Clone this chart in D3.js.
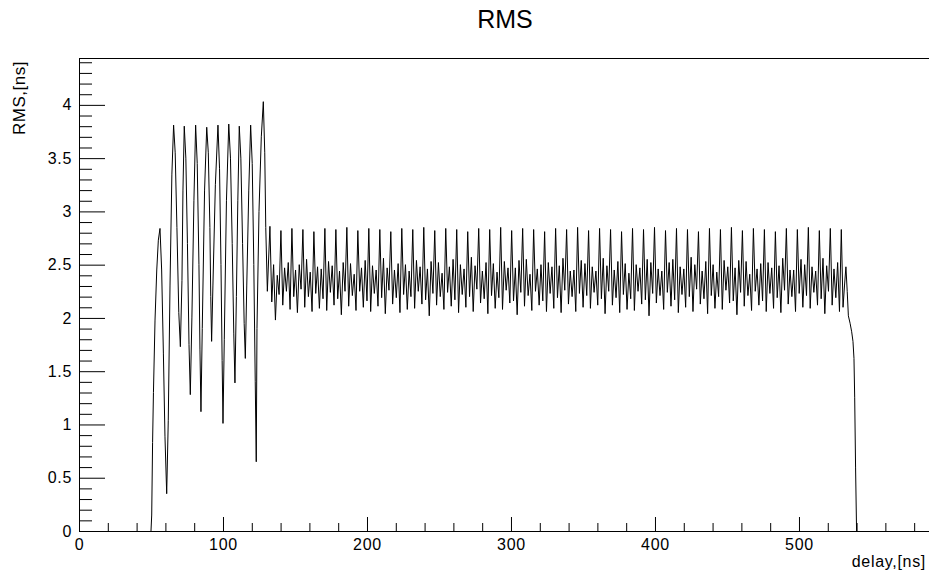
<!DOCTYPE html>
<html>
<head>
<meta charset="utf-8">
<script src="https://cdn.jsdelivr.net/npm/d3@7"></script>
<style>
  html, body { margin: 0; padding: 0; background: #fff; }
  svg { display: block; font-family: "Liberation Sans", Arial, Helvetica, sans-serif; }
</style>
</head>
<body>
<script>
// ---------------- data ----------------
const chartTitle = "RMS";
const xTitle = "delay,[ns]";
const yTitle = "RMS,[ns]";

// rising edge and large oscillations (delay in ns, RMS in ns)
const earlyDelay = [
  50.0, 50.5, 51.1, 51.7, 52.8, 54.0, 55.1, 56.25, 57.4, 58.6, 59.7, 60.9, 62.0, 63.2, 64.5,
  65.7, 66.8, 68.0, 69.3, 70.4, 71.5, 72.2,
  73.1, 74.2, 75.3, 76.4, 77.3, 78.4, 79.8,
  81.0, 82.1, 83.3, 84.0, 84.7, 85.6, 87.2,
  88.7, 89.8, 90.9, 91.5, 92.1, 93.0, 94.7,
  96.5, 97.6, 98.6, 99.4, 100.0, 100.9, 102.4,
  104.0, 105.2, 106.4, 107.5, 108.3, 109.3, 110.3,
  111.3, 112.4, 113.6, 114.7, 115.5, 116.5, 117.9,
  119.2, 120.3, 121.4, 122.4, 123.1, 123.6, 125.0, 126.6,
  128.0, 129.0, 129.7, 130.8
];
const earlyRMS = [
  0.00, 0.15, 0.83, 1.30, 1.98, 2.45, 2.73, 2.84, 2.45, 1.67, 0.89, 0.35, 1.04, 2.30, 3.35,
  3.81, 3.55, 2.85, 2.05, 1.73, 2.35, 3.20,
  3.80, 3.50, 2.70, 1.75, 1.28, 2.00, 3.10,
  3.81, 3.45, 2.50, 1.70, 1.12, 1.90, 3.20,
  3.79, 3.55, 2.85, 2.20, 1.78, 2.30, 3.25,
  3.81, 3.40, 2.50, 1.60, 1.01, 1.80, 3.10,
  3.82, 3.50, 2.70, 1.85, 1.39, 2.20, 3.10,
  3.80, 3.50, 2.70, 1.95, 1.62, 2.30, 3.20,
  3.81, 3.45, 2.50, 1.40, 0.65, 1.90, 3.00, 3.70,
  4.03, 3.55, 2.85, 2.25
];

// plateau, sampled on a regular delay grid
const midStart = 132.6;   // ns
const midStep = 1.2718;   // ns
const midRMS = [
  2.86, 2.15, 2.50, 1.98, 2.40, 2.22,
  2.82, 2.12, 2.47, 2.25, 2.52, 2.08,
  2.84, 2.20, 2.45, 2.05, 2.50, 2.27,
  2.83, 2.10, 2.55, 2.20, 2.43, 2.06,
  2.81, 2.23, 2.48, 2.09, 2.46, 2.18,
  2.84, 2.07, 2.53, 2.24, 2.49, 2.12,
  2.83, 2.18, 2.44, 2.03, 2.52, 2.25,
  2.85, 2.11, 2.51, 2.21, 2.41, 2.07,
  2.82, 2.25, 2.47, 2.10, 2.54, 2.16,
  2.84, 2.06, 2.49, 2.23, 2.45, 2.11,
  2.83, 2.19, 2.56, 2.04, 2.47, 2.26,
  2.81, 2.13, 2.45, 2.19, 2.51, 2.05,
  2.84, 2.22, 2.50, 2.08, 2.44, 2.20,
  2.83, 2.09, 2.54, 2.25, 2.48, 2.13,
  2.85, 2.17, 2.46, 2.02, 2.53, 2.23,
  2.82, 2.12, 2.52, 2.20, 2.42, 2.08,
  2.84, 2.24, 2.48, 2.11, 2.55, 2.17,
  2.83, 2.05, 2.50, 2.22, 2.46, 2.10,
  2.81, 2.20, 2.57, 2.06, 2.49, 2.27,
  2.84, 2.14, 2.44, 2.18, 2.52, 2.04,
  2.83, 2.21, 2.51, 2.09, 2.43, 2.19,
  2.85, 2.08, 2.53, 2.26, 2.47, 2.14,
  2.82, 2.16, 2.47, 2.03, 2.54, 2.24,
  2.84, 2.11, 2.55, 2.21, 2.41, 2.07,
  2.83, 2.25, 2.46, 2.12, 2.50, 2.16,
  2.81, 2.06, 2.52, 2.23, 2.48, 2.09,
  2.84, 2.19, 2.49, 2.05, 2.56, 2.26,
  2.83, 2.13, 2.44, 2.20, 2.45, 2.06,
  2.85, 2.23, 2.54, 2.10, 2.51, 2.21,
  2.82, 2.09, 2.48, 2.24, 2.44, 2.12,
  2.84, 2.18, 2.56, 2.04, 2.49, 2.25,
  2.83, 2.12, 2.45, 2.19, 2.53, 2.05,
  2.81, 2.22, 2.51, 2.08, 2.42, 2.18,
  2.84, 2.07, 2.50, 2.25, 2.47, 2.13,
  2.83, 2.17, 2.55, 2.02, 2.52, 2.23,
  2.85, 2.14, 2.46, 2.21, 2.44, 2.08,
  2.82, 2.24, 2.52, 2.11, 2.55, 2.17,
  2.84, 2.05, 2.48, 2.22, 2.46, 2.10,
  2.83, 2.20, 2.57, 2.06, 2.50, 2.27,
  2.81, 2.13, 2.44, 2.18, 2.53, 2.04,
  2.84, 2.21, 2.50, 2.09, 2.43, 2.20,
  2.83, 2.08, 2.54, 2.26, 2.48, 2.14,
  2.85, 2.16, 2.47, 2.03, 2.54, 2.24,
  2.82, 2.11, 2.53, 2.21, 2.41, 2.07,
  2.84, 2.25, 2.46, 2.12, 2.51, 2.16,
  2.83, 2.06, 2.52, 2.23, 2.47, 2.09,
  2.81, 2.19, 2.49, 2.05, 2.56, 2.26,
  2.84, 2.13, 2.45, 2.20, 2.45, 2.06,
  2.83, 2.23, 2.55, 2.10, 2.50, 2.21,
  2.85, 2.09, 2.48, 2.24, 2.44, 2.12,
  2.82, 2.18, 2.56, 2.04, 2.49, 2.25,
  2.84, 2.12, 2.46, 2.19, 2.52, 2.06,
  2.83
];

// falling edge
const tailDelay = [530.6, 531.6, 532.6, 533.5, 534.3, 535.5, 536.6, 537.5, 538.2, 538.7, 539.3, 540.0];
const tailRMS   = [2.10, 2.30, 2.48, 2.25, 2.02, 1.95, 1.87, 1.78, 1.62, 1.25, 0.60, 0.00];

// axes
const xDomain = [0, 590.3];
const yDomain = [0, 4.44];
const xMajorTicks = [0, 100, 200, 300, 400, 500];
const xTickLabels = ["0", "100", "200", "300", "400", "500"];
const yMajorTicks = [0, 0.5, 1, 1.5, 2, 2.5, 3, 3.5, 4];
const yTickLabels = ["0", "0.5", "1", "1.5", "2", "2.5", "3", "3.5", "4"];

// ---------------- drawing ----------------
const W = 929, H = 576;
const frame = { left: 79, right: 929, top: 58, bottom: 531 };

const points = [];
earlyDelay.forEach((d, i) => points.push([d, earlyRMS[i]]));
midRMS.forEach((v, i) => points.push([midStart + i * midStep, v]));
tailDelay.forEach((d, i) => points.push([d, tailRMS[i]]));

const x = d3.scaleLinear().domain(xDomain).range([frame.left, frame.right]);
const y = d3.scaleLinear().domain(yDomain).range([frame.bottom, frame.top]);

const svg = d3.select("body").append("svg").attr("width", W).attr("height", H);
svg.append("rect").attr("width", W).attr("height", H).attr("fill", "#fff");

const labelFont = { size: "16px", spacing: "0.7px" };

// minor ticks
const yMinor = d3.range(0, 4.4001, 0.1).filter(v => Math.abs(v * 2 - Math.round(v * 2)) > 1e-6);
const xMinor = d3.range(0, 590, 20).filter(v => v % 100 !== 0);

const gyMinor = svg.append("g").attr("transform", `translate(${frame.left},0)`)
  .call(d3.axisLeft(y).tickValues(yMinor).tickSizeInner(-13).tickSizeOuter(0).tickFormat(""));
gyMinor.select(".domain").remove();

const gxMinor = svg.append("g").attr("transform", `translate(0,${frame.bottom})`)
  .call(d3.axisBottom(x).tickValues(xMinor).tickSizeInner(-8).tickSizeOuter(0).tickFormat(""));
gxMinor.select(".domain").remove();

// major axes
const gy = svg.append("g").attr("transform", `translate(${frame.left},0)`)
  .call(d3.axisLeft(y).tickValues(yMajorTicks).tickSizeInner(-26).tickSizeOuter(0).tickPadding(7)
    .tickFormat((d, i) => yTickLabels[i]));
const gx = svg.append("g").attr("transform", `translate(0,${frame.bottom})`)
  .call(d3.axisBottom(x).tickValues(xMajorTicks).tickSizeInner(-14).tickSizeOuter(0).tickPadding(8)
    .tickFormat((d, i) => xTickLabels[i]));

svg.selectAll(".tick line, .domain").attr("stroke", "#000").attr("stroke-width", 1);
[gy, gx].forEach(g => g.selectAll("text")
  .attr("fill", "#000")
  .style("font-family", '"Liberation Sans", Arial, sans-serif')
  .style("font-size", labelFont.size)
  .style("letter-spacing", labelFont.spacing));

// top frame border
svg.append("line")
  .attr("x1", frame.left).attr("x2", frame.right)
  .attr("y1", frame.top + 0.5).attr("y2", frame.top + 0.5)
  .attr("stroke", "#000").attr("stroke-width", 1);

// data line
svg.append("path")
  .datum(points)
  .attr("fill", "none")
  .attr("stroke", "#000")
  .attr("stroke-width", 1)
  .attr("d", d3.line().x(d => x(d[0])).y(d => y(d[1])));

// titles
svg.append("text")
  .attr("x", 505).attr("y", 28)
  .attr("text-anchor", "middle")
  .style("font-size", "25px")
  .attr("fill", "#000")
  .text(chartTitle);

svg.append("text")
  .attr("x", 926).attr("y", 567)
  .attr("text-anchor", "end")
  .style("font-size", labelFont.size)
  .style("letter-spacing", labelFont.spacing)
  .attr("fill", "#000")
  .text(xTitle);

svg.append("text")
  .attr("transform", "translate(25,61) rotate(-90)")
  .attr("text-anchor", "end")
  .style("font-size", "17px")
  .style("letter-spacing", "0.5px")
  .attr("fill", "#000")
  .text(yTitle);
</script>
</body>
</html>
